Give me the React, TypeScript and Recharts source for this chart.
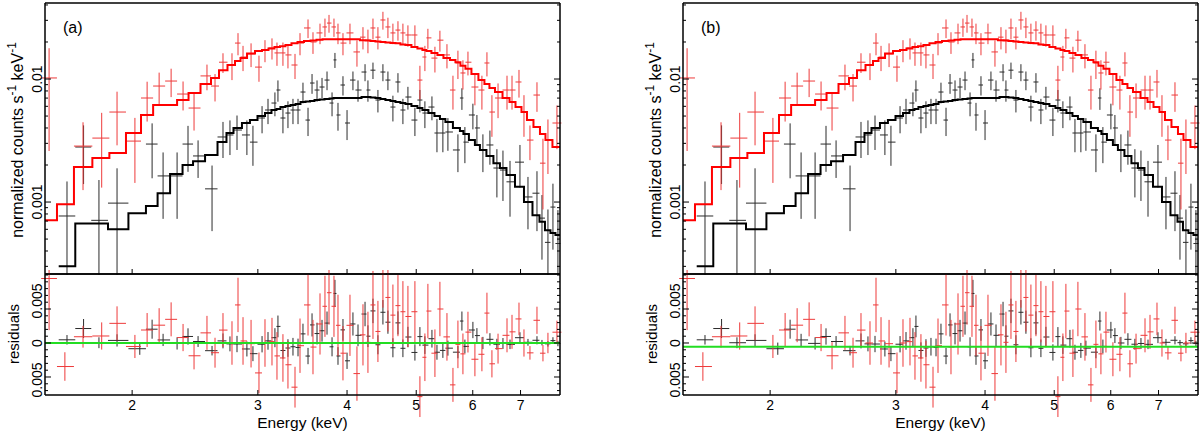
import React from 'react';
import { ComposedChart, Line, Scatter, ErrorBar, XAxis, YAxis, ReferenceLine } from 'recharts';

// Spectra: bin centre (keV), rate and 1-sigma error
// (normalized counts s^-1 keV^-1), and the folded model for the same bin.
const redEnergy = [
  1.53, 1.61, 1.707, 1.813, 1.905, 2.018, 2.099, 2.182, 2.268, 2.357,
  2.442, 2.546, 2.613, 2.681, 2.76, 2.814, 2.86, 2.935, 3.011, 3.07,
  3.14, 3.191, 3.253, 3.306, 3.382, 3.437, 3.527, 3.584, 3.666, 3.725,
  3.774, 3.835, 3.885, 3.948, 4.038, 4.13, 4.211, 4.279, 4.349, 4.419,
  4.491, 4.564, 4.638, 4.714, 4.79, 4.868, 4.979, 5.06, 5.142, 5.192,
  5.311, 5.397, 5.521, 5.629, 5.72, 5.813, 5.908, 6.042, 6.18, 6.281,
  6.383, 6.51, 6.701, 6.81, 6.965, 7.078, 7.216, 7.381, 7.525, 7.647,
  7.872,
];
const redRate = [
  0.0102, -0.0025, 0.00285, 0.00331, 0.00539, 0.00313, 0.00701, 0.00877, 0.00963, 0.00755,
  0.00581, 0.0106, 0.00877, 0.0137, 0.013, 0.0196, 0.0151, 0.016, 0.0125, 0.0172,
  0.0179, 0.0163, 0.0163, 0.0157, 0.013, 0.0196, 0.026, 0.02, 0.0237, 0.0265,
  0.0285, 0.0265, 0.0237, 0.0196, 0.0237, 0.0166, 0.0219, 0.0207, 0.026, 0.0219,
  0.0302, 0.0265, 0.0237, 0.025, 0.0237, 0.0228, 0.0228, 0.00981, 0.0151, 0.0216,
  0.0148, 0.0207, 0.0157, 0.00814, 0.0135, 0.0112, 0.0137, 0.00861, 0.00814, 0.0135,
  0.00539, 0.00701, 0.00814, 0.00814, 0.00946, 0.00539, 0.00319, 0.00741, 0.00207, 0.00319,
  0.00439,
];
const redError = [
  0.0076, 0.0021, 0.0016, 0.002, 0.0025, 0.0017, 0.0025, 0.0025, 0.0025, 0.002,
  0.002, 0.0025, 0.0022, 0.0025, 0.0032, 0.004, 0.0035, 0.0035, 0.003, 0.0035,
  0.0035, 0.0035, 0.0035, 0.0035, 0.003, 0.004, 0.0045, 0.004, 0.0045, 0.0045,
  0.0047, 0.0045, 0.0045, 0.004, 0.0045, 0.004, 0.0045, 0.0045, 0.005, 0.0045,
  0.005, 0.005, 0.0045, 0.0045, 0.0045, 0.0045, 0.0045, 0.003, 0.0035, 0.004,
  0.0035, 0.004, 0.0035, 0.0025, 0.0035, 0.003, 0.003, 0.0025, 0.0025, 0.003,
  0.002, 0.0022, 0.0025, 0.0025, 0.0024, 0.002, 0.001, 0.002, 0.0012, 0.0015,
  0.0017,
];
const redModel = [
  0.00071, 0.00096, 0.00193, 0.00228, 0.0025, 0.00364, 0.0051, 0.00615, 0.00615, 0.00675,
  0.00769, 0.00911, 0.0102, 0.0118, 0.013, 0.014, 0.0148, 0.0161, 0.0169, 0.0172,
  0.0177, 0.0182, 0.0185, 0.0189, 0.0195, 0.02, 0.0204, 0.0206, 0.0209, 0.0211,
  0.0211, 0.0211, 0.0211, 0.0211, 0.0211, 0.0211, 0.0207, 0.0206, 0.0204, 0.0202,
  0.02, 0.0198, 0.0196, 0.0195, 0.0191, 0.0189, 0.0182, 0.0177, 0.0172, 0.0169,
  0.0163, 0.0157, 0.0148, 0.0143, 0.0137, 0.0128, 0.0121, 0.011, 0.0098, 0.0091,
  0.00845, 0.00784, 0.00701, 0.0065, 0.00592, 0.00539, 0.00464, 0.00407, 0.00357, 0.00319,
  0.0028,
];

const blackEnergy = [
  1.621, 1.71, 1.797, 1.905, 2.05, 2.133, 2.21, 2.312, 2.395, 2.474,
  2.588, 2.681, 2.742, 2.805, 2.896, 2.953, 3.041, 3.1, 3.17, 3.201,
  3.253, 3.306, 3.36, 3.415, 3.47, 3.527, 3.573, 3.631, 3.69, 3.75,
  3.811, 3.847, 3.885, 3.948, 4.0, 4.077, 4.144, 4.239, 4.279, 4.349,
  4.419, 4.491, 4.564, 4.638, 4.714, 4.79, 4.868, 4.979, 5.06, 5.142,
  5.26, 5.346, 5.449, 5.538, 5.72, 5.794, 5.85, 6.003, 6.081, 6.2,
  6.342, 6.486, 6.614, 6.766, 6.987, 7.17, 7.381, 7.501, 7.647, 7.771,
  7.897,
];
const blackRate = [
  0.00077, 0.0028, 0.00071, 0.00098, -0.00003, 0.00296, 0.00163, 0.00163, 0.00296, 0.00237,
  0.00128, 0.00338, 0.00351, 0.00385, 0.00351, 0.00307, 0.00482, 0.0056, 0.00638, 0.00814,
  0.00482, 0.00529, 0.0056, 0.0056, 0.00784, 0.00464, 0.00928, 0.00814, 0.00861, 0.00981,
  0.00638, 0.0143, 0.0051, 0.00894, 0.00439, 0.00981, 0.00814, 0.0114, 0.00814, 0.0118,
  0.00675, 0.0114, 0.00981, 0.00592, 0.00946, 0.0056, 0.00714, 0.00464, 0.00675, 0.00529,
  0.00592, 0.00364, 0.00364, 0.00371, 0.00265, 0.00701, 0.00307, 0.0051, 0.004, 0.00265,
  0.00291, 0.00189, 0.00182, 0.00146, 0.00211, 0.0011, 0.00118, 0.00074, 0.00047, 0.00091,
  0.00046,
];
const blackError = [
  0.0007, 0.0014, 0.0008, 0.0009, 0.0009, 0.0014, 0.0009, 0.0009, 0.0012, 0.0008,
  0.0007, 0.0011, 0.0011, 0.0012, 0.0011, 0.0011, 0.0012, 0.0013, 0.0014, 0.0016,
  0.0012, 0.0013, 0.0013, 0.0013, 0.0015, 0.0012, 0.0017, 0.0016, 0.0016, 0.0017,
  0.0014, 0.002, 0.0013, 0.0016, 0.0012, 0.0017, 0.0016, 0.0018, 0.0016, 0.0018,
  0.0014, 0.0018, 0.0017, 0.0014, 0.0017, 0.0013, 0.0015, 0.0012, 0.0014, 0.0013,
  0.0013, 0.0011, 0.0011, 0.0011, 0.0009, 0.0014, 0.001, 0.0012, 0.0011, 0.0009,
  0.0009, 0.0008, 0.0008, 0.0007, 0.0008, 0.0005, 0.0006, 0.0004, 0.0004, 0.0005,
  0.0004,
];
const blackModel = [
  0.0003, 0.00067, 0.00067, 0.0006, 0.00081, 0.00093, 0.00118, 0.00169, 0.002, 0.00215,
  0.00241, 0.00307, 0.00364, 0.004, 0.00439, 0.00464, 0.005, 0.00529, 0.0056, 0.0057,
  0.00592, 0.00603, 0.00615, 0.00626, 0.0065, 0.00656, 0.00662, 0.00675, 0.00681, 0.00688,
  0.00694, 0.00701, 0.00701, 0.00701, 0.00701, 0.00701, 0.00701, 0.00714, 0.00714, 0.00708,
  0.00701, 0.00688, 0.00675, 0.00662, 0.0065, 0.00638, 0.00626, 0.00603, 0.00581, 0.0056,
  0.00529, 0.005, 0.00473, 0.00447, 0.004, 0.00378, 0.00357, 0.00319, 0.00291, 0.00265,
  0.00237, 0.00207, 0.00189, 0.00166, 0.00133, 0.001, 0.00078, 0.00069, 0.00059, 0.00056,
  0.00054,
];

const energyTicks = [2, 3, 4, 5, 6, 7];
const rateTicks = [
  0.0003, 0.0004, 0.0005, 0.0006, 0.0007, 0.0008, 0.0009, 0.001,
  0.002, 0.003, 0.004, 0.005, 0.006, 0.007, 0.008, 0.009, 0.01, 0.02, 0.03, 0.04,
];
const rateLabelled = [0.001, 0.01];
const residualTicks = [
  -0.007, -0.006, -0.005, -0.004, -0.003, -0.002, -0.001, 0,
  0.001, 0.002, 0.003, 0.004, 0.005, 0.006, 0.007, 0.008, 0.009, 0.01,
];
const residualLabelled = [-0.005, 0, 0.005];

const energyDomain = [1.51, 7.95];
const rateDomain = [0.00026, 0.0415];
const residualDomain = [-0.00765, 0.01015];

const panels = [
  { name: '(a)', left: 0, zeroLine: 0 },
  { name: '(b)', left: 638, zeroLine: -0.00055 },
];

const FONT = '"Liberation Sans", Arial, Helvetica, sans-serif';
const tickText = { fontFamily: FONT, fontSize: 14, fill: '#000' };
const RED_DATA = '#ee3a3a';
const BLACK_DATA = '#2b2b2b';

// bins: edges halfway (in log E) between neighbouring channel centres
function makeBins(energy: number[], rate: number[], error: number[], model: number[]) {
  const n = energy.length;
  const mid = energy.slice(1).map((e, i) => Math.sqrt(e * energy[i]));
  const lo = [(energy[0] * energy[0]) / mid[0], ...mid];
  const hi = [...mid, (energy[n - 1] * energy[n - 1]) / mid[n - 2]];
  const bins = energy.map((e, i) => ({
    e,
    v: rate[i],
    r: rate[i] - model[i],
    ex: [e - lo[i], hi[i] - e],
    ey: [Math.min(error[i], rate[i] * 0.999), error[i]],
    er: error[i],
  }));
  const steps = energy.map((_, i) => ({ e: lo[i], m: model[i] }));
  steps.push({ e: hi[n - 1], m: model[n - 1] });
  return { spectrum: bins.filter((b) => b.v > 0), residual: bins, steps };
}

const red = makeBins(redEnergy, redRate, redError, redModel);
const black = makeBins(blackEnergy, blackRate, blackError, blackModel);

const noMarker = () => <g />;

const bottomTick = (withLabel: boolean) => (p: any) => (
  <g>
    <line x1={p.x} y1={p.y} x2={p.x} y2={p.y - 5} stroke="#000" strokeWidth={1} />
    {withLabel && (
      <text x={p.x} y={p.y + 15} textAnchor="middle" style={tickText}>
        {p.payload.value}
      </text>
    )}
  </g>
);
const topTick = (p: any) => <line x1={p.x} y1={p.y} x2={p.x} y2={p.y + 5} stroke="#000" strokeWidth={1} />;

const leftTick = (labelled: number[], text: (v: number) => string, shift: (v: number) => number) => (p: any) => {
  const v = p.payload.value;
  const major = labelled.includes(v);
  const tx = p.x - 3;
  const ty = p.y + shift(v);
  return (
    <g>
      <line x1={p.x} y1={p.y} x2={p.x + (major ? 6 : 3)} y2={p.y} stroke="#000" strokeWidth={1} />
      {major && (
        <text x={tx} y={ty} textAnchor="middle" transform={`rotate(-90 ${tx} ${ty})`} style={tickText}>
          {text(v)}
        </text>
      )}
    </g>
  );
};
const rightTick = (labelled: number[]) => (p: any) => {
  const major = labelled.includes(p.payload.value);
  return <line x1={p.x} y1={p.y} x2={p.x - (major ? 6 : 3)} y2={p.y} stroke="#000" strokeWidth={1} />;
};

const rateLeftTick = leftTick(rateLabelled, (v) => String(v), () => 0);
const residualLeftTick = leftTick(
  residualLabelled,
  (v) => (v === 0 ? '0' : '0.005'),
  (v) => (v > 0 ? -8 : v < 0 ? 3 : 0)
);

const frame = { stroke: '#000', strokeWidth: 1.5 };

function Panel({ name, left, zeroLine }: { name: string; left: number; zeroLine: number }) {
  const rotated = (cx: number, cy: number, size: number): React.CSSProperties => ({
    position: 'absolute',
    left: left + cx,
    top: cy,
    transform: 'translate(-50%, -50%) rotate(-90deg)',
    whiteSpace: 'nowrap',
    fontFamily: FONT,
    fontSize: size,
    lineHeight: 1,
  });
  return (
    <>
      <div style={{ position: 'absolute', left, top: 0 }}>
        <ComposedChart width={565} height={275} margin={{ top: 2, right: 4, bottom: 0, left: 0 }}>
          <XAxis
            dataKey="e"
            type="number"
            scale="log"
            domain={energyDomain}
            allowDataOverflow
            ticks={energyTicks}
            interval={0}
            height={1}
            tickSize={0}
            tickMargin={0}
            tickLine={false}
            axisLine={frame}
            tick={bottomTick(false)}
          />
          <XAxis
            xAxisId="top"
            orientation="top"
            type="number"
            scale="log"
            domain={energyDomain}
            allowDataOverflow
            ticks={energyTicks}
            interval={0}
            height={1}
            tickSize={0}
            tickMargin={0}
            tickLine={false}
            axisLine={frame}
            tick={topTick}
          />
          <YAxis
            type="number"
            scale="log"
            domain={rateDomain}
            allowDataOverflow
            ticks={rateTicks}
            interval={0}
            width={45}
            tickSize={0}
            tickMargin={0}
            tickLine={false}
            axisLine={frame}
            tick={rateLeftTick}
          />
          <YAxis
            yAxisId="right"
            orientation="right"
            type="number"
            scale="log"
            domain={rateDomain}
            allowDataOverflow
            ticks={rateTicks}
            interval={0}
            width={1}
            tickSize={0}
            tickMargin={0}
            tickLine={false}
            axisLine={frame}
            tick={rightTick(rateLabelled)}
          />
          <Scatter data={black.spectrum} dataKey="v" shape={noMarker} isAnimationActive={false}>
            <ErrorBar dataKey="ey" direction="y" width={0} stroke={BLACK_DATA} strokeWidth={1} isAnimationActive={false} />
            <ErrorBar dataKey="ex" direction="x" width={0} stroke={BLACK_DATA} strokeWidth={1} isAnimationActive={false} />
          </Scatter>
          <Scatter data={red.spectrum} dataKey="v" shape={noMarker} isAnimationActive={false}>
            <ErrorBar dataKey="ey" direction="y" width={0} stroke={RED_DATA} strokeWidth={1} isAnimationActive={false} />
            <ErrorBar dataKey="ex" direction="x" width={0} stroke={RED_DATA} strokeWidth={1} isAnimationActive={false} />
          </Scatter>
          <Line data={black.steps} dataKey="m" type="stepAfter" stroke="#000" strokeWidth={2} dot={false} isAnimationActive={false} />
          <Line data={red.steps} dataKey="m" type="stepAfter" stroke="#ff0000" strokeWidth={2} dot={false} isAnimationActive={false} />
        </ComposedChart>
      </div>

      <div style={{ position: 'absolute', left, top: 270 }}>
        <ComposedChart width={565} height={163} margin={{ top: 3, right: 4, bottom: 0, left: 0 }}>
          <XAxis
            dataKey="e"
            type="number"
            scale="log"
            domain={energyDomain}
            allowDataOverflow
            ticks={energyTicks}
            interval={0}
            height={38}
            tickSize={0}
            tickMargin={0}
            tickLine={false}
            axisLine={frame}
            tick={bottomTick(true)}
          />
          <XAxis
            xAxisId="top"
            orientation="top"
            type="number"
            scale="log"
            domain={energyDomain}
            allowDataOverflow
            ticks={energyTicks}
            interval={0}
            height={1}
            tickSize={0}
            tickMargin={0}
            tickLine={false}
            axisLine={frame}
            tick={topTick}
          />
          <YAxis
            type="number"
            domain={residualDomain}
            allowDataOverflow
            ticks={residualTicks}
            interval={0}
            width={45}
            tickSize={0}
            tickMargin={0}
            tickLine={false}
            axisLine={frame}
            tick={residualLeftTick}
          />
          <YAxis
            yAxisId="right"
            orientation="right"
            type="number"
            domain={residualDomain}
            allowDataOverflow
            ticks={residualTicks}
            interval={0}
            width={1}
            tickSize={0}
            tickMargin={0}
            tickLine={false}
            axisLine={frame}
            tick={rightTick(residualLabelled)}
          />
          <Scatter data={black.residual} dataKey="r" shape={noMarker} isAnimationActive={false}>
            <ErrorBar dataKey="er" direction="y" width={0} stroke={BLACK_DATA} strokeWidth={1} isAnimationActive={false} />
            <ErrorBar dataKey="ex" direction="x" width={0} stroke={BLACK_DATA} strokeWidth={1} isAnimationActive={false} />
          </Scatter>
          <Scatter data={red.residual} dataKey="r" shape={noMarker} isAnimationActive={false}>
            <ErrorBar dataKey="er" direction="y" width={0} stroke={RED_DATA} strokeWidth={1} isAnimationActive={false} />
            <ErrorBar dataKey="ex" direction="x" width={0} stroke={RED_DATA} strokeWidth={1} isAnimationActive={false} />
          </Scatter>
          <ReferenceLine y={zeroLine} stroke="#22dd22" strokeWidth={2} />
        </ComposedChart>
      </div>

      <div style={{ position: 'absolute', left: left + 63, top: 20, fontFamily: FONT, fontSize: 16, lineHeight: 1 }}>{name}</div>
      <div style={rotated(16, 140, 16)}>
        normalized counts s<sup style={{ fontSize: 12 }}>-1</sup> keV<sup style={{ fontSize: 12 }}>-1</sup>
      </div>
      <div style={rotated(13, 334, 15)}>residuals</div>
      <div
        style={{
          position: 'absolute',
          left: left + 302.5,
          top: 415,
          transform: 'translateX(-50%)',
          whiteSpace: 'nowrap',
          fontFamily: FONT,
          fontSize: 15.5,
          lineHeight: 1,
        }}
      >
        Energy (keV)
      </div>
    </>
  );
}

export default function App() {
  return (
    <div style={{ position: 'absolute', left: 0, top: 0, width: 1200, height: 433, background: '#fff', overflow: 'hidden' }}>
      {panels.map((p) => (
        <Panel key={p.name} name={p.name} left={p.left} zeroLine={p.zeroLine} />
      ))}
    </div>
  );
}
